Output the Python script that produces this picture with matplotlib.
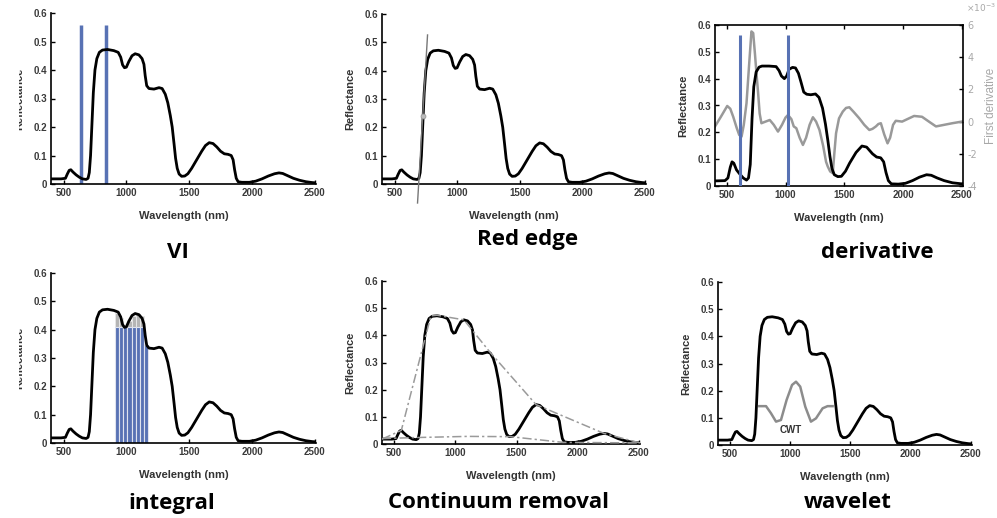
import numpy as np
import matplotlib
matplotlib.use("Agg")
import matplotlib.pyplot as plt
from matplotlib.transforms import Bbox, TransformedBbox

# ---------------- data ----------------
wl_main = [400, 480, 515, 530, 545, 558, 575, 600, 625, 650, 680, 695, 705, 715, 725, 737, 750, 765,
           785, 810, 850, 900, 935, 955, 970, 985, 1000, 1020, 1045, 1070, 1100, 1125, 1140, 1150,
           1162, 1180, 1220, 1260, 1285, 1310, 1330, 1350, 1365, 1380, 1392, 1405, 1420, 1440, 1465,
           1490, 1520, 1560, 1600, 1630, 1660, 1690, 1720, 1750, 1780, 1810, 1835, 1850, 1862, 1875,
           1890, 1920, 1980, 2030, 2080, 2130, 2180, 2215, 2245, 2280, 2330, 2380, 2430, 2480, 2510]
refl_main = [0.018, 0.018, 0.02, 0.035, 0.048, 0.05, 0.042, 0.032, 0.024, 0.018, 0.016, 0.02, 0.04,
             0.10, 0.20, 0.32, 0.40, 0.44, 0.462, 0.47, 0.472, 0.468, 0.462, 0.445, 0.418, 0.408, 0.41,
             0.43, 0.45, 0.457, 0.453, 0.44, 0.42, 0.38, 0.345, 0.335, 0.333, 0.338, 0.335, 0.315,
             0.285, 0.24, 0.20, 0.14, 0.09, 0.055, 0.035, 0.027, 0.028, 0.036, 0.055, 0.085, 0.115,
             0.135, 0.145, 0.142, 0.13, 0.115, 0.106, 0.104, 0.10, 0.085, 0.05, 0.02, 0.008, 0.006,
             0.006, 0.01, 0.018, 0.028, 0.036, 0.039, 0.037, 0.03, 0.02, 0.013, 0.008, 0.005, 0.004]

# derivative panel spectrum
wl_d = [400, 485, 510, 530, 545, 560, 583, 610, 640, 668, 685, 700, 715, 730, 750, 775, 800, 860, 920,
        945, 965, 990, 1010, 1030, 1060, 1085, 1110, 1130, 1155, 1180, 1215, 1255, 1285, 1315, 1340,
        1360, 1378, 1395, 1415, 1445, 1475, 1510, 1545, 1600, 1650, 1690, 1740, 1775, 1810, 1835,
        1855, 1875, 1900, 1960, 2020, 2080, 2140, 2200, 2240, 2290, 2350, 2420, 2500]
refl_d = [0.019, 0.02, 0.03, 0.07, 0.09, 0.085, 0.06, 0.045, 0.03, 0.022, 0.03, 0.08, 0.25, 0.37,
          0.425, 0.443, 0.447, 0.447, 0.445, 0.43, 0.41, 0.40, 0.41, 0.435, 0.442, 0.44, 0.42, 0.39,
          0.35, 0.342, 0.34, 0.343, 0.33, 0.29, 0.23, 0.17, 0.11, 0.065, 0.042, 0.035, 0.036, 0.055,
          0.085, 0.125, 0.149, 0.145, 0.12, 0.108, 0.105, 0.09, 0.05, 0.02, 0.008, 0.007, 0.01, 0.02,
          0.033, 0.042, 0.04, 0.03, 0.02, 0.012, 0.008]

# first derivative (x 10^-3)
wl_fd = [400, 450, 504, 530, 555, 585, 606, 626, 645, 668, 690, 710, 725, 740, 755, 767, 780, 795,
         830, 866, 900, 936, 970, 1000, 1021, 1050, 1070, 1092, 1120, 1148, 1175, 1205, 1233, 1260,
         1289, 1320, 1345, 1360, 1380, 1402, 1415, 1430, 1455, 1487, 1515, 1543, 1580, 1628, 1670,
         1713, 1740, 1769, 1790, 1811, 1840, 1868, 1890, 1915, 1938, 1992, 2050, 2094, 2161, 2220,
         2280, 2350, 2420, 2500]
first_deriv = [-0.3, 0.3, 0.97, 0.8, 0.3, -0.4, -0.83, -0.93, -0.2, 1.14, 3.5, 5.6, 5.5, 4.2, 2.8,
               1.76, 0.5, -0.1, 0.0, 0.1, -0.2, -0.62, -0.2, 0.25, 0.41, 0.15, -0.3, -0.41, -1.0,
               -1.45, -1.0, -0.2, 0.27, 0.0, -0.52, -1.5, -2.5, -2.8, -3.1, -3.2, -2.0, -0.72, 0.2,
               0.62, 0.85, 0.89, 0.6, 0.2, -0.2, -0.52, -0.45, -0.3, -0.15, -0.1, -0.8, -1.35, -1.0,
               -0.2, 0.05, 0.0, 0.2, 0.35, 0.3, 0.0, -0.3, -0.2, -0.1, 0.0]

vi_bands = [640, 835]
vi_top = 0.558
deriv_bands = [611, 1021]
deriv_top = 0.563

red_edge_line_x = [684, 764]
red_edge_line_y = [-0.067, 0.526]
red_edge_point = (727, 0.24)

integral_centers = [926, 959, 992, 1025, 1058, 1091, 1124, 1158]
integral_blue = [0.41, 0.41, 0.41, 0.41, 0.41, 0.41, 0.41, 0.345]
integral_gray = [0.46, 0.44, 0.41, 0.43, 0.45, 0.457, 0.45, 0.345]
integral_width = 33

hull_up_x = [400, 558, 800, 850, 1070, 1285, 1660, 2215, 2510]
hull_up_y = [0.018, 0.05, 0.472, 0.474, 0.457, 0.337, 0.145, 0.039, 0.004]
hull_lo_x = [400, 700, 1100, 1450, 1880, 2510]
hull_lo_y = [0.02, 0.024, 0.028, 0.027, 0.006, 0.004]

cwt_x = [743, 799, 840, 882, 923, 970, 1015, 1048, 1083, 1125, 1172, 1214, 1269, 1310, 1352]
cwt_y = [0.143, 0.143, 0.117, 0.086, 0.092, 0.166, 0.221, 0.233, 0.215, 0.141, 0.086, 0.098,
         0.135, 0.143, 0.143]

x_ticks = [500, 1000, 1500, 2000, 2500]
y_ticks = [0, 0.1, 0.2, 0.3, 0.4, 0.5, 0.6]
y_tick_labels = ["0", "0.1", "0.2", "0.3", "0.4", "0.5", "0.6"]
d_ticks = [-4, -2, 0, 2, 4, 6]
titles = ["VI", "Red edge", "derivative", "integral", "Continuum removal", "wavelet"]

# ---------------- figure ----------------
W, H = 997, 518
fig = plt.figure(figsize=(W / 100, H / 100), dpi=100)
fig.patch.set_facecolor("white")

BLUE = "#5872b4"
TICKC = "#3a3a3a"
FONT = "Liberation Sans"


def axes_px(l, t, r, b):
    return fig.add_axes([l / W, 1 - b / H, (r - l) / W, (b - t) / H])


def style(ax, l, t, r, b, box=False, clip_label=False):
    ax.set_xlim(400, 2510)
    ax.set_ylim(0, 0.6)
    ax.set_xticks(x_ticks)
    ax.set_xticklabels([str(v) for v in x_ticks])
    ax.set_yticks(y_ticks)
    ax.set_yticklabels(y_tick_labels)
    ax.tick_params(direction="in", length=3, width=1, labelsize=7, pad=3,
                   labelcolor=TICKC, top=box, right=False)
    for lab in ax.get_xticklabels() + ax.get_yticklabels():
        lab.set_fontweight("bold")
        lab.set_family(FONT)
    for s in ["left", "bottom"]:
        ax.spines[s].set_linewidth(1.2)
    if box:
        ax.spines["top"].set_linewidth(1.2)
        ax.spines["right"].set_linewidth(1.2)
    else:
        ax.spines["top"].set_visible(False)
        ax.spines["right"].set_visible(False)
    ax.set_xlabel("Wavelength (nm)", fontsize=8, fontweight="bold", color="#333333", family=FONT)
    ax.xaxis.set_label_coords(0.5, -27 / (b - t))
    ax.set_ylabel("Reflectance", fontsize=8, fontweight="bold", color="#333333", family=FONT)
    ax.yaxis.set_label_coords(-27 / (r - l), 0.5)
    if clip_label:
        lbl = ax.yaxis.label
        lbl.set_clip_on(True)
        lbl.set_clip_box(TransformedBbox(Bbox.from_extents(18.5 / W, 0, 1, 1), fig.transFigure))


def title(x, y, s):
    fig.text(x / W, 1 - y / H, s, ha="center", va="center", fontsize=16,
             fontweight="bold", family="Open Sans", color="black")


# Panel 1: VI
ax1 = axes_px(51, 13, 316, 184)
ax1.vlines(vi_bands, 0, vi_top, color=BLUE, lw=2.5, zorder=2)
ax1.plot(wl_main, refl_main, color="black", lw=2, zorder=3)
style(ax1, 51, 13, 316, 184, clip_label=True)

# Panel 2: Red edge
ax2 = axes_px(382, 14, 646, 184)
ax2.plot(wl_main, refl_main, color="black", lw=2, zorder=3)
ax2.plot(red_edge_line_x, red_edge_line_y, color="#777777", lw=1.0, zorder=4, clip_on=False)
ax2.plot([red_edge_point[0]], [red_edge_point[1]], "o", ms=3.5, mfc="#bbbbbb", mec="#999999",
         mew=0.6, zorder=5)
style(ax2, 382, 14, 646, 184)

# Panel 3: derivative
ax3 = axes_px(715, 25, 963, 186)
ax3.vlines(deriv_bands, 0, deriv_top, color=BLUE, lw=2.2, zorder=4)
ax3.plot(wl_d, refl_d, color="black", lw=2, zorder=3)
style(ax3, 715, 25, 963, 186, box=True)
ax3b = ax3.twinx()
ax3b.plot(wl_fd, first_deriv, color="#999999", lw=1.8, zorder=2)
ax3b.set_ylim(-4, 6)
ax3b.set_xlim(400, 2510)
ax3b.set_yticks(d_ticks)
ax3b.set_yticklabels([str(v) for v in d_ticks])
ax3b.tick_params(direction="in", length=3, width=1, labelsize=7, pad=3, labelcolor="#a8a8a8")
ax3b.set_ylabel("First derivative", fontsize=8.5, color="#a8a8a8", family=FONT)
ax3b.yaxis.set_label_coords(1 + 22 / 248, 0.5)
for s in ax3b.spines.values():
    s.set_visible(False)
ax3.set_zorder(ax3b.get_zorder() + 1)
ax3.patch.set_visible(False)
fig.text(966 / W, 1 - 8 / H, r"$\times10^{-3}$", fontsize=6.5, color="#a8a8a8",
         ha="left", va="center")

# Panel 4: integral
ax4 = axes_px(51, 273, 316, 443)
ax4.bar(integral_centers, integral_gray, width=integral_width, color="#b5b5b5",
        edgecolor="#e6e6e6", lw=0.7, zorder=2)
ax4.bar(integral_centers, integral_blue, width=integral_width, color=BLUE,
        edgecolor="#dfe3ee", lw=0.8, zorder=2)
ax4.plot(wl_main, refl_main, color="black", lw=2, zorder=3)
style(ax4, 51, 273, 316, 443, clip_label=True)

# Panel 5: Continuum removal
ax5 = axes_px(382, 281, 640, 444)
ax5.plot(wl_main, refl_main, color="black", lw=2, zorder=3)
ax5.plot(hull_up_x, hull_up_y, color="#9a9a9a", lw=1.1, ls=(0, (6, 2, 1.5, 2)), zorder=4)
ax5.plot(hull_lo_x, hull_lo_y, color="#9a9a9a", lw=1.1, ls=(0, (6, 2, 1.5, 2)), zorder=4)
style(ax5, 382, 281, 640, 444)

# Panel 6: wavelet
ax6 = axes_px(718, 282, 972, 445)
ax6.plot(wl_main, refl_main, color="black", lw=2, zorder=3)
ax6.plot(cwt_x, cwt_y, color="#8c8c8c", lw=1.8, zorder=4)
ax6.text(1006, 0.055, "CWT", fontsize=7, fontweight="bold", color="#333333",
         ha="center", va="center", family=FONT)
style(ax6, 718, 282, 972, 445)

# Titles
title(178, 253, titles[0])
title(528, 240, titles[1])
title(877, 253, titles[2])
title(172, 504, titles[3])
title(498, 503, titles[4])
title(848, 502, titles[5])

fig.savefig("out.png", dpi=100, facecolor="white")
